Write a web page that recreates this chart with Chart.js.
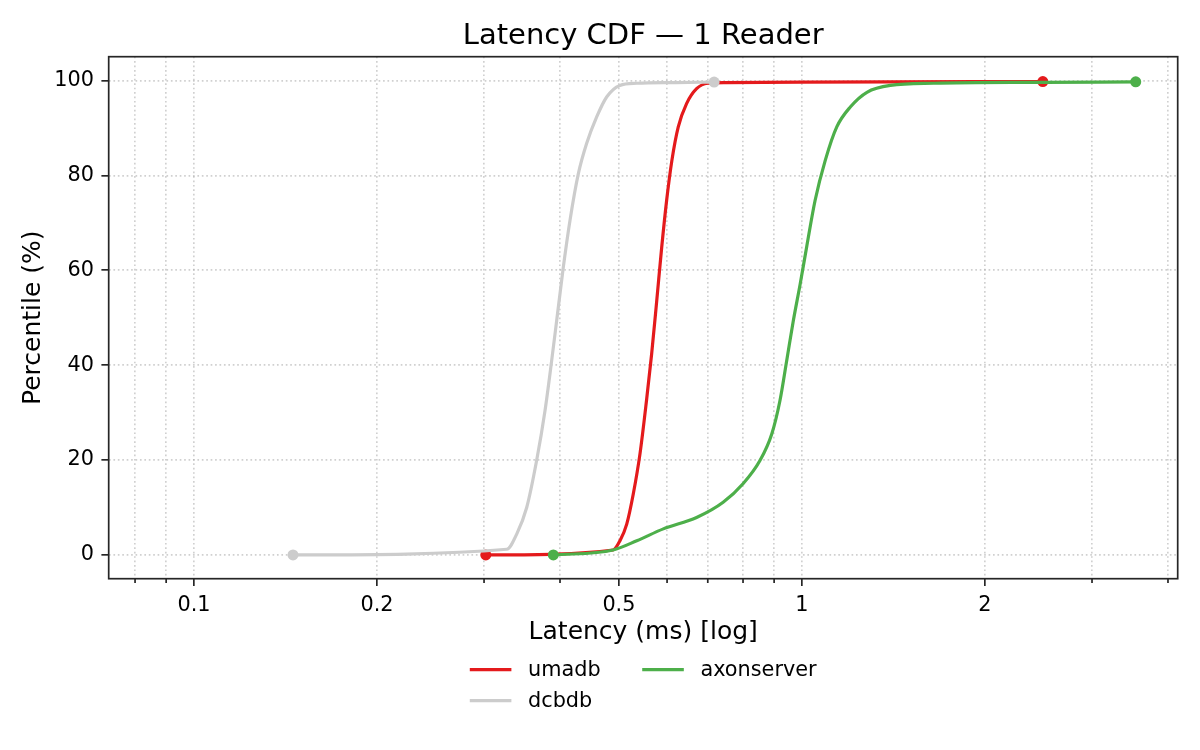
<!DOCTYPE html>
<html><head><meta charset="utf-8">
<script src="https://cdn.jsdelivr.net/npm/chart.js@4.4.1/dist/chart.umd.min.js"></script>
<style>html,body{margin:0;padding:0;background:#fff}#wrap{width:1200px;height:750px}</style>
</head><body><div id="wrap"><canvas id="c" width="1200" height="750"></canvas></div>
<script>
// ---- data ----
const chartTitle = 'Latency CDF — 1 Reader';
const xAxisTitle = 'Latency (ms) [log]';
const yAxisTitle = 'Percentile (%)';

const umadbLatency    = [0.302, 0.489, 0.502, 0.515, 0.528, 0.5415, 0.555, 0.566, 0.577, 0.588, 0.599, 0.611, 0.626, 0.646, 0.671, 0.70, 0.75, 1.0, 2.49];
const umadbPercentile = [0, 1.05, 3.0, 6.5, 12.9, 21.3, 32.5, 42.4, 53.6, 64.9, 74.7, 83.1, 90.2, 95.1, 98.25, 99.4, 99.55, 99.65, 99.75];

const dcbdbLatency    = [0.1455, 0.327, 0.3395, 0.3526, 0.3661, 0.3779, 0.3876, 0.395, 0.405, 0.4154, 0.4287, 0.4424, 0.4596, 0.4773, 0.5017, 0.535, 0.62, 0.717];
const dcbdbPercentile = [0, 1.2, 4.4, 10.0, 19.9, 30.4, 41.0, 49.4, 60.6, 70.5, 80.3, 86.7, 92.3, 96.5, 98.95, 99.4, 99.55, 99.65];

const axonLatency    = [0.39, 0.489, 0.535, 0.5915, 0.671, 0.742, 0.80, 0.853, 0.892, 0.92, 0.944, 0.968, 0.993, 1.018, 1.051, 1.092, 1.141, 1.201, 1.279, 1.398, 1.647, 2.5, 3.54];
const axonPercentile = [0, 1.05, 3.0, 5.5, 7.9, 11.1, 15.0, 19.9, 25.5, 32.5, 41.0, 49.4, 57.0, 64.9, 74.7, 83.1, 90.2, 94.4, 97.5, 98.95, 99.4, 99.6, 99.7];

const seriesNames  = ['umadb', 'dcbdb', 'axonserver'];
const seriesColors = ['#e41a1c', '#cccccc', '#4daf4a'];

const xTickValues = [0.08, 0.09, 0.1, 0.2, 0.3, 0.4, 0.5, 0.6, 0.7, 0.8, 0.9, 1, 2, 3, 4];
const xTickLabels = ['', '', '0.1', '0.2', '', '', '0.5', '', '', '', '', '1', '2', '', ''];
const xMajorTicks = [0.1, 0.2, 0.5, 1, 2];
const yTickValues = [0, 20, 40, 60, 80, 100];
const yTickLabels = ['0', '20', '40', '60', '80', '100'];
const xRange = [0.0724, 4.15];
const yRange = [-5, 105];

// ---- build chart ----
const FONT = '"DejaVu Sans", "Liberation Sans", sans-serif';
Chart.defaults.font.family = FONT;
Chart.defaults.color = '#000';
const SPINE = '#262626';

function pts(xs, ys) { return xs.map((x, i) => ({x: x, y: ys[i]})); }
const seriesData = [pts(umadbLatency, umadbPercentile), pts(dcbdbLatency, dcbdbPercentile), pts(axonLatency, axonPercentile)];
const drawOrder = [3, 2, 1];

const datasets = seriesNames.map((name, i) => ({
  label: name,
  data: seriesData[i],
  borderColor: seriesColors[i],
  backgroundColor: seriesColors[i],
  pointBackgroundColor: seriesColors[i],
  borderWidth: 3.2,
  cubicInterpolationMode: 'monotone',
  borderJoinStyle: 'round',
  pointRadius: (ctx) => (ctx.dataIndex === 0 || ctx.dataIndex === seriesData[i].length - 1) ? 5.5 : 0,
  pointHoverRadius: 0,
  pointBorderWidth: 0,
  order: drawOrder[i],
  fill: false
}));

const framePlugin = {
  id: 'frame',
  afterDatasetsDraw(chart) {
    const {ctx, chartArea: a} = chart;
    ctx.save();
    ctx.strokeStyle = SPINE;
    ctx.lineWidth = 1.7;
    ctx.strokeRect(a.left, a.top, a.right - a.left, a.bottom - a.top);
    // short minor tick marks on the x axis (matplotlib style)
    const sx = chart.scales.x;
    ctx.beginPath();
    xTickValues.forEach(v => {
      if (xMajorTicks.includes(v)) return;
      const px = sx.getPixelForValue(v);
      ctx.moveTo(px, a.bottom);
      ctx.lineTo(px, a.bottom + 4.2);
    });
    ctx.stroke();
    ctx.restore();
  }
};

const legendPlugin = {
  id: 'mplLegend',
  afterDraw(chart) {
    const {ctx, chartArea: a} = chart;
    const fs = 20.8;
    ctx.save();
    ctx.font = fs + 'px ' + FONT;
    const handle = 2 * fs, pad = 0.8 * fs, colSpace = 2 * fs;
    // matplotlib ncol=2, column-wise fill: col1 = umadb, dcbdb ; col2 = axonserver
    const cols = [[0, 1], [2]];
    const colW = cols.map(c => handle + pad + Math.max(...c.map(k => ctx.measureText(seriesNames[k]).width)));
    const total = colW.reduce((s, w) => s + w, 0) + colSpace * (cols.length - 1);
    let x = (a.left + a.right) / 2 - total / 2;
    const rowY = [a.bottom + 91, a.bottom + 122];
    cols.forEach((c, ci) => {
      c.forEach((k, ri) => {
        const y = rowY[ri];
        ctx.strokeStyle = seriesColors[k];
        ctx.lineWidth = 3.3;
        ctx.beginPath(); ctx.moveTo(x, y); ctx.lineTo(x + handle, y); ctx.stroke();
        ctx.fillStyle = '#000';
        ctx.textAlign = 'left';
        ctx.textBaseline = 'middle';
        ctx.fillText(seriesNames[k], x + handle + pad, y + 0.5);
      });
      x += colW[ci] + colSpace;
    });
    ctx.restore();
  }
};

new Chart(document.getElementById('c'), {
  type: 'line',
  data: { datasets },
  plugins: [framePlugin, legendPlugin],
  options: {
    responsive: false,
    animation: false,
    events: [],
    layout: { padding: { left: 0, right: 22.3, top: 0, bottom: 101.3 } },
    plugins: {
      legend: { display: false },
      tooltip: { enabled: false },
      title: {
        display: true, text: chartTitle, fullSize: false,
        font: { size: 29, weight: 'normal', family: FONT },
        color: '#000',
        padding: { top: 19, bottom: 2.9 }
      }
    },
    scales: {
      x: {
        type: 'logarithmic',
        position: 'bottom',
        min: xRange[0], max: xRange[1],
        afterBuildTicks: (s) => { s.ticks = xTickValues.map(v => ({value: v})); },
        afterFit: (s) => { s.height = 70; },
        ticks: {
          autoSkip: false, maxRotation: 0, minRotation: 0, padding: 7,
          font: { size: 20.8 }, color: '#000',
          callback: (v, i) => xTickLabels[i]
        },
        grid: {
          color: 'rgba(176,176,176,0.6)', lineWidth: 1.67,
          drawTicks: true, tickLength: 7.3, tickWidth: 1.7,
          tickColor: (ctx) => (ctx.tick && xMajorTicks.includes(ctx.tick.value)) ? SPINE : 'rgba(0,0,0,0)'
        },
        border: { display: false, dash: [1.67, 2.75] },
        title: { display: true, text: xAxisTitle, font: { size: 25 }, color: '#000', padding: { top: 0, bottom: 1.7 } }
      },
      y: {
        type: 'linear',
        position: 'left',
        min: yRange[0], max: yRange[1],
        afterBuildTicks: (s) => { s.ticks = yTickValues.map(v => ({value: v})); },
        afterFit: (s) => { s.width = 108.7; },
        ticks: {
          padding: 7.5, font: { size: 20.8 }, color: '#000',
          callback: (v, i) => yTickLabels[i]
        },
        grid: {
          color: 'rgba(176,176,176,0.6)', lineWidth: 1.67,
          drawTicks: true, tickLength: 7.3, tickColor: SPINE, tickWidth: 1.7
        },
        border: { display: false, dash: [1.67, 2.75] },
        title: { display: true, text: yAxisTitle, font: { size: 25 }, color: '#000', padding: { top: 18, bottom: 0 } }
      }
    }
  }
});
</script>
</body></html>
